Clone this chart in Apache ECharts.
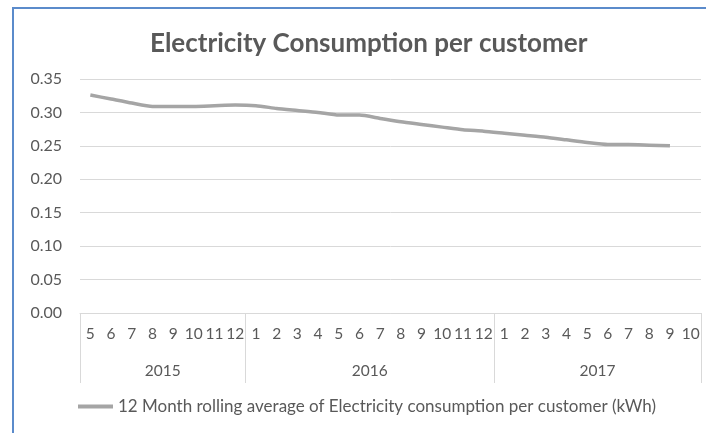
<!DOCTYPE html>
<html><head><meta charset="utf-8">
<script src="https://cdn.jsdelivr.net/npm/echarts@6/dist/echarts.min.js"></script>
<style>html,body{margin:0;padding:0;background:#fff}#c{width:706px;height:433px}</style>
</head><body><div id="c"></div>
<script>
const years = ['2015', '2016', '2017'];
const monthsPerYear = [
  [5, 6, 7, 8, 9, 10, 11, 12],
  [1, 2, 3, 4, 5, 6, 7, 8, 9, 10, 11, 12],
  [1, 2, 3, 4, 5, 6, 7, 8, 9, 10]
];
const values = [
  0.326, 0.320, 0.314, 0.309, 0.309, 0.309, 0.310, 0.311,
  0.310, 0.306, 0.303, 0.300, 0.296, 0.296, 0.291, 0.286, 0.282, 0.278, 0.274, 0.272,
  0.269, 0.266, 0.263, 0.259, 0.255, 0.252, 0.252, 0.251, 0.250, null
];
const yTicks = ['0.00', '0.05', '0.10', '0.15', '0.20', '0.25', '0.30', '0.35'];
const seriesName = '12 Month rolling average of Electricity consumption per customer (kWh)';
const titleText = 'Electricity Consumption per customer';

const monthCats = [];
monthsPerYear.forEach(ms => ms.forEach(m => monthCats.push(String(m))));
// boundary positions for the year grouping axis
const boundaries = [0];
const centers = {};
let acc = 0;
monthsPerYear.forEach((ms, i) => {
  const start = acc;
  acc += ms.length;
  boundaries.push(acc);
  const c = start + ms.length / 2;
  if (Number.isInteger(c)) centers[c] = years[i];
});
const boundaryCats = [];
for (let i = 0; i <= monthCats.length; i++) boundaryCats.push(centers[i] || '');

const font = 'Lato, "Open Sans", sans-serif';
const chart = echarts.init(document.getElementById('c'));
chart.setOption({
  animation: false,
  title: {
    text: titleText, left: 145, top: 26,
    textStyle: { fontFamily: font, fontSize: 26, fontWeight: 'bold', color: '#595959' }
  },
  graphic: [{
    type: 'rect', shape: { x: 13, y: 8, width: 720, height: 460 },
    style: { fill: 'none', stroke: '#5b8bcb', lineWidth: 2 }, silent: true
  }],
  grid: { left: 80, right: 5, top: 79, bottom: 120 },
  legend: {
    left: 73, top: 393, icon: 'rect', itemWidth: 35, itemHeight: 4, itemGap: 5,
    textStyle: { fontFamily: font, fontSize: 17, color: '#595959' },
    data: [seriesName]
  },
  xAxis: [{
    type: 'category', data: monthCats, position: 'bottom',
    axisLine: { lineStyle: { color: '#d9d9d9', width: 1 } },
    axisTick: { show: false },
    axisLabel: { interval: 0, margin: 13, fontFamily: font, fontSize: 15.5, color: '#595959' }
  }, {
    type: 'category', data: boundaryCats, position: 'bottom', boundaryGap: false,
    axisLine: { show: false },
    axisTick: { show: true, length: 70, interval: (i) => boundaries.indexOf(i) >= 0,
      lineStyle: { color: '#d9d9d9', width: 1 } },
    axisLabel: { interval: (i) => boundaryCats[i] !== '', margin: 50, fontFamily: font, fontSize: 15.5, color: '#595959' }
  }],
  yAxis: {
    type: 'value', min: 0, max: 0.35, interval: 0.05,
    axisLine: { show: false }, axisTick: { show: false },
    splitLine: { lineStyle: { color: '#d9d9d9', width: 1 } },
    axisLabel: { margin: 18, fontFamily: font, fontSize: 16, color: '#595959',
      formatter: (v) => yTicks[Math.round(v / 0.05)] }
  },
  series: [{
    name: seriesName, type: 'line', xAxisIndex: 0, data: values,
    symbol: 'none', smooth: 0.2,
    lineStyle: { color: '#a5a5a5', width: 3.5 }, itemStyle: { color: '#a5a5a5' }
  }]
});
</script></body></html>
